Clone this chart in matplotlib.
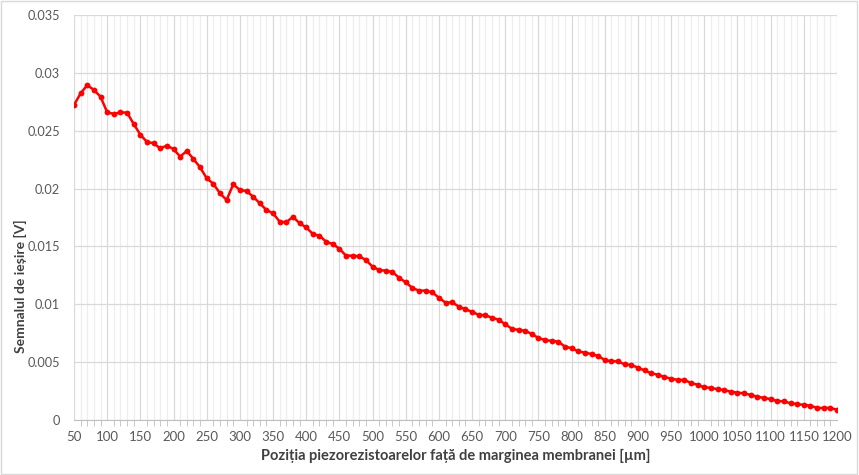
import numpy as np
import matplotlib.pyplot as plt
from matplotlib.ticker import MultipleLocator, FuncFormatter
from matplotlib.patches import Rectangle

# Piezoresistor position [um] and output signal [V]
positions = list(range(50, 1201, 10))
signal = [
    0.02722, 0.02823, 0.02895, 0.02852, 0.02794, 0.02659, 0.02645, 0.02659, 0.02656, 0.02558,
    0.02466, 0.02403, 0.02391, 0.02348, 0.02371, 0.02342, 0.02276, 0.02325, 0.02256, 0.02184,
    0.02089, 0.02042, 0.01959, 0.01901, 0.02037, 0.01988, 0.01979, 0.01930, 0.01873, 0.01815,
    0.01786, 0.01714, 0.01708, 0.01757, 0.01700, 0.01665, 0.01607, 0.01593, 0.01541, 0.01521,
    0.01480, 0.01420, 0.01420, 0.01414, 0.01383, 0.01325, 0.01296, 0.01290, 0.01279, 0.01229,
    0.01190, 0.01141, 0.01118, 0.01118, 0.01103, 0.01057, 0.01014, 0.01017, 0.00980, 0.00958,
    0.00934, 0.00909, 0.00904, 0.00885, 0.00867, 0.00827, 0.00789, 0.00778, 0.00772, 0.00743,
    0.00709, 0.00691, 0.00683, 0.00677, 0.00634, 0.00620, 0.00594, 0.00582, 0.00570, 0.00553,
    0.00519, 0.00507, 0.00507, 0.00480, 0.00477, 0.00452, 0.00429, 0.00403, 0.00392, 0.00372,
    0.00357, 0.00346, 0.00346, 0.00320, 0.00305, 0.00281, 0.00279, 0.00265, 0.00259, 0.00245,
    0.00236, 0.00230, 0.00216, 0.00202, 0.00190, 0.00181, 0.00164, 0.00161, 0.00144, 0.00138,
    0.00130, 0.00124, 0.00104, 0.00104, 0.00104, 0.00089,
]

x_label = "Poziția piezorezistoarelor față de marginea membranei [µm]"
y_label = "Semnalul de ieșire [V]"

plt.rcParams['font.family'] = ['Lato', 'DejaVu Sans']

fig = plt.figure(figsize=(8.59, 4.75), dpi=100)
ax = fig.add_axes([74 / 859, 55 / 475, 763 / 859, 405 / 475])

ax.plot(positions, signal, color='#ff0000', linewidth=1.8, marker='o',
        markersize=4.2, markeredgewidth=0, zorder=3)

ax.set_xlim(50, 1200)
ax.set_ylim(0, 0.035)
ax.xaxis.set_major_locator(MultipleLocator(50))
ax.xaxis.set_minor_locator(MultipleLocator(10))
ax.yaxis.set_major_locator(MultipleLocator(0.005))
ax.yaxis.set_major_formatter(FuncFormatter(lambda v, p: "%g" % round(v, 4)))

# Gridlines like the spreadsheet chart
ax.grid(which='major', axis='both', color='#d9d9d9', linewidth=0.9, zorder=0)
ax.grid(which='minor', axis='x', color='#eeeeee', linewidth=0.9, zorder=0)
ax.set_axisbelow(True)

for side in ['top', 'right', 'left']:
    ax.spines[side].set_visible(False)
ax.spines['bottom'].set_color('#bfbfbf')

ax.tick_params(axis='x', which='major', length=0, pad=8, labelsize=9.5, labelcolor='#595959')
ax.tick_params(axis='x', which='minor', length=4, color='#bfbfbf', direction='out')
ax.tick_params(axis='y', which='major', length=0, pad=10, labelsize=9.2, labelcolor='#595959')

ax.set_xlabel(x_label, fontsize=10.5, fontweight='bold', color='#404040', labelpad=4)
ax.set_ylabel(y_label, fontsize=10, fontweight='bold', color='#404040')
ax.yaxis.set_label_coords(-0.062, 0.33)

# thin border around the chart area
fig.patches.append(Rectangle((0.001, 0.002), 0.997, 0.995, transform=fig.transFigure,
                             fill=False, edgecolor='#d9d9d9', linewidth=1))

fig.savefig("out.png", dpi=100)
